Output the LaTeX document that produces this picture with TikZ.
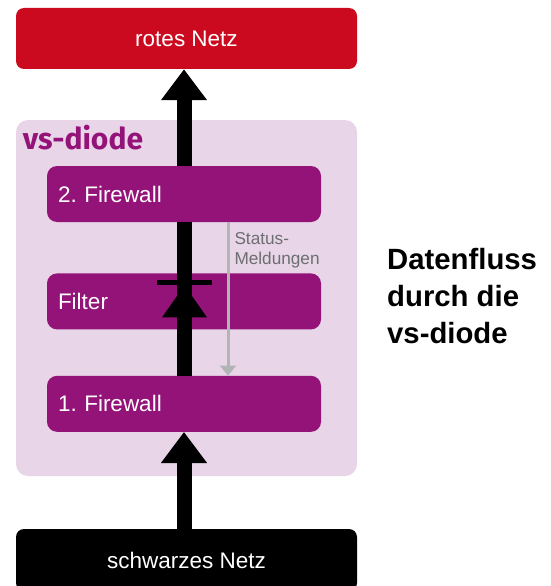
\documentclass[tikz,border=0pt]{standalone}
\usepackage{fontspec}
\setmainfont{Liberation Sans}
\newfontfamily\headfont{Fira Sans}
\usepackage{tikz}
\usetikzlibrary{calc,arrows.meta,positioning}
\definecolor{vs-red}{HTML}{CC0A1F}
\definecolor{vs-purple}{HTML}{941379}
\definecolor{vs-lilac}{HTML}{E8D5E8}
\definecolor{vs-grey}{HTML}{B2B4B6}
\definecolor{vs-note}{HTML}{6D6E71}
\frenchspacing

\begin{document}
\begin{tikzpicture}[x=1pt,y=-1pt,
    net/.style={rectangle, rounded corners=8pt, minimum width=341pt, minimum height=61pt,
      text=white, font=\fontsize{22.5}{27}\selectfont},
    stage/.style={rectangle, rounded corners=10pt, fill=vs-purple, minimum height=56pt,
      text width=252pt, inner xsep=11pt, align=left, text=white,
      font=\fontsize{22.5}{27}\selectfont},
    flow/.style={line width=15pt, -{Triangle[length=31pt,width=44pt]}},
    status/.style={vs-grey, line width=3pt, -{Triangle[length=10pt,width=16pt]}}]
    \useasboundingbox (0,0) rectangle (551,586);
    \node[rectangle, rounded corners=12pt, fill=vs-lilac, minimum width=341pt, minimum height=356pt] (vsbox) at (186.5,298) {};
    \node[anchor=base west, inner sep=0, text=vs-purple, font=\headfont\bfseries\fontsize{30}{34}\selectfont]
      (vstitle) at ([xshift=7pt,yshift=-30pt]vsbox.north west) {vs-diode};
    \node[net, fill=vs-red] (rotnetz) at (186.5,38.5) {rotes Netz};
    \node[net, fill=black, minimum height=62pt] (schwarznetz) at (186.5,560) {schwarzes Netz};
    \node[stage] (fw2) at (184,194) {2. Firewall};
    \node[stage, below=51pt of fw2] (filter) {Filter};
    \node[stage, below=46pt of filter] (fw1) {1. Firewall};
    % Datenfluss
    \draw[flow] (schwarznetz.north -| fw1.south) -- (fw1.south);
    \draw[line width=15pt] (fw1.north) -- (fw2.south);
    \draw[flow] (fw2.north) -- (fw2.north |- rotnetz.south);
    % Diode im Filter
    \coordinate (dtip) at ($(filter.center)+(0.5,-16)$);
    \fill (dtip) -- ++(-22.5,32) -- ++(45,0) -- cycle;
    \fill ($(dtip)+(-27.5,-5)$) rectangle ($(dtip)+(27.5,0)$);
    % Rueckmeldung
    \draw[status] ([xshift=44pt]fw2.south) -- ([xshift=44pt]fw1.north)
      node[pos=0, anchor=north west, inner sep=0, xshift=5pt, yshift=-8.5pt, align=left,
        text=vs-note, font=\fontsize{17.2}{20}\selectfont] (statuslabel) {Status-\\Meldungen};
    \node[anchor=north west, align=left, inner sep=0, font=\bfseries\fontsize{29.3}{37}\selectfont]
      (caption) at (387,248) {Datenfluss\\durch die\\vs-diode};
\end{tikzpicture}
\end{document}
